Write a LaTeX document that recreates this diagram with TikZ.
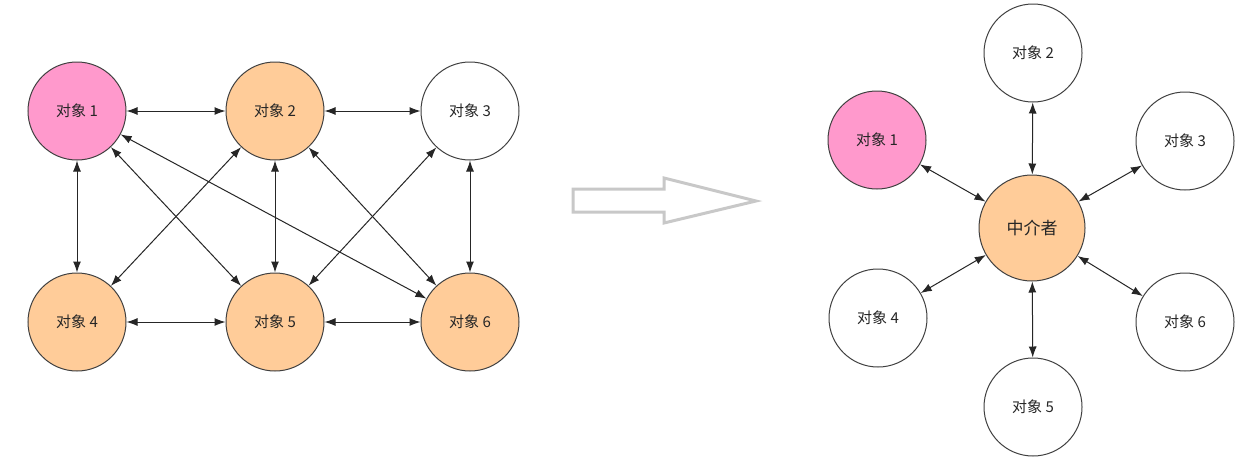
\documentclass[tikz,border=0pt]{standalone}
\usepackage{fontspec}
\newfontfamily\cjk{Noto Sans CJK SC}
\usetikzlibrary{arrows.meta}
\definecolor{pinkfill}{HTML}{FF99CC}
\definecolor{orangefill}{HTML}{FFCC99}
\definecolor{bigarrow}{HTML}{C8C8C8}
\begin{document}
\begin{tikzpicture}[x=1pt,y=-1pt,
  obj/.style={circle,draw=black!75,line width=1pt,minimum size=98pt,inner sep=0pt,font=\cjk\fontsize{15}{17}\selectfont,text=black!85},
  med/.style={obj,minimum size=106pt,font=\cjk\fontsize{17}{19}\selectfont},
  link/.style={draw=black!85,line width=1pt,{Latex[length=11pt,width=8pt]}-{Latex[length=11pt,width=8pt]}}]
\useasboundingbox (0,0) rectangle (1242,458);
\fill[white] (0,0) rectangle (1242,458);
% left graph
\node[obj,fill=pinkfill] (a1) at (77,111) {对象 1};
\node[obj,fill=orangefill] (a2) at (275,111) {对象 2};
\node[obj,fill=white] (a3) at (470,111) {对象 3};
\node[obj,fill=orangefill] (a4) at (77,322) {对象 4};
\node[obj,fill=orangefill] (a5) at (275,322) {对象 5};
\node[obj,fill=orangefill] (a6) at (470,322) {对象 6};
\draw[link] (a1) -- (a2);
\draw[link] (a2) -- (a3);
\draw[link] (a4) -- (a5);
\draw[link] (a5) -- (a6);
\draw[link] (a1) -- (a4);
\draw[link] (a2) -- (a5);
\draw[link] (a3) -- (a6);
\draw[link] (a1) -- (a5);
\draw[link] (a2) -- (a4);
\draw[link] (a2) -- (a6);
\draw[link] (a3) -- (a5);
\draw[link] (a1) -- (a6);
% big hollow arrow
\draw[bigarrow,line width=3pt,line join=miter] (573,189) -- (664,189) -- (664,178) -- (756,201) -- (664,223) -- (664,212) -- (573,212) -- cycle;
% right graph
\node[med,fill=orangefill] (m) at (1032,228) {中介者};
\node[obj,fill=pinkfill] (b1) at (877,140) {对象 1};
\node[obj,fill=white] (b2) at (1033,53) {对象 2};
\node[obj,fill=white] (b3) at (1185,141) {对象 3};
\node[obj,fill=white] (b4) at (878,318) {对象 4};
\node[obj,fill=white] (b5) at (1033,407) {对象 5};
\node[obj,fill=white] (b6) at (1185,322) {对象 6};
\foreach \n in {b1,b2,b3,b4,b5,b6} \draw[link] (m) -- (\n);
\end{tikzpicture}
\end{document}
